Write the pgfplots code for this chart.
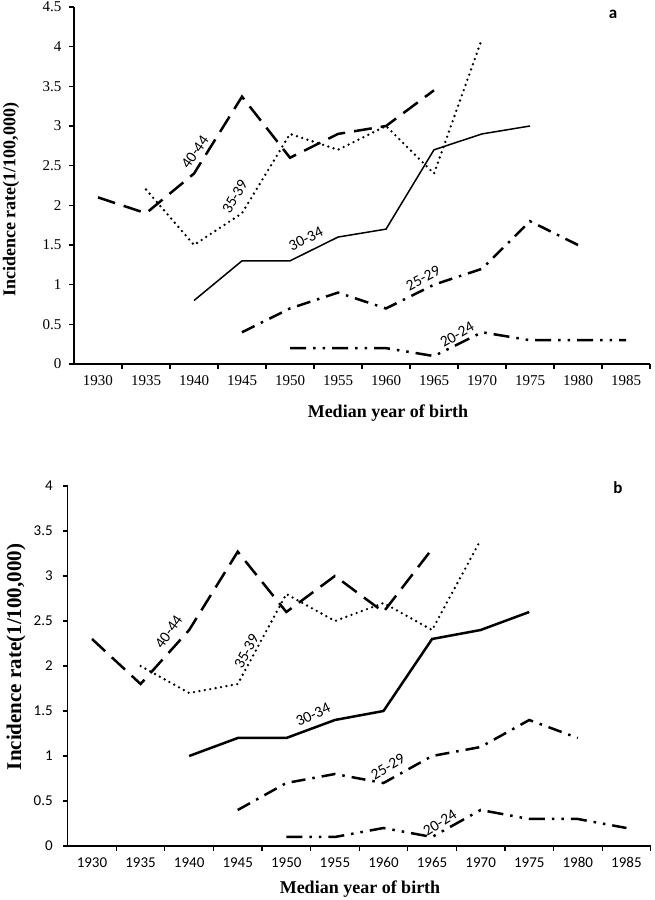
\documentclass[border=0pt]{standalone}
\usepackage{fontspec}
\setmainfont{Liberation Serif}
\newfontfamily\carlito{Carlito}
\usepackage{pgfplots}
\pgfplotsset{compat=1.18}
\pgfplotsset{
 cohort/.style={
  scale only axis, axis x line=bottom, axis y line=left,
  axis line style={-, line width=1.6pt},
  xmin=-0.5, xmax=11.5, xtick={0,...,11},
  xticklabels={1930,1935,1940,1945,1950,1955,1960,1965,1970,1975,1980,1985},
  every major x tick/.style={draw=none},
  minor xtick={0.5,1.5,...,11.5},
  tick align=outside, tick style={line width=1.2pt, black},
  major tick length=5pt, minor tick length=5pt,
  /pgf/number format/assume math mode=true,
  clip=false,
 },
 l40/.style={black, line width=2.5pt, dash pattern=on 18pt off 9pt},
 l35/.style={black, line width=2.6pt, line cap=round, dash pattern=on 0pt off 5.5pt},
 l30/.style={black, line width=1.5pt},
 l25/.style={black, line width=2.5pt, dash pattern=on 14pt off 7pt on 2.5pt off 7pt},
 l20/.style={black, line width=2.5pt, dash pattern=on 16pt off 7pt on 2.5pt off 7pt on 2.5pt off 7pt},
}
\tikzset{lab/.style={font=\carlito\fontsize{15.5}{15.5}\selectfont, inner sep=1pt}}
\begin{document}
\begin{tikzpicture}
\useasboundingbox (0pt,0pt) rectangle (654pt,900pt);
% ---------------- panel a ----------------
\begin{axis}[cohort, at={(74pt,536pt)}, anchor=south west, width=576pt, height=357pt,
  ymin=0, ymax=4.5, ytick={0,0.5,...,4.5},
  yticklabels={0,0.5,1,1.5,2,2.5,3,3.5,4,4.5},
  ticklabel style={font=\fontsize{15}{15}\selectfont},
  yticklabel style={xshift=-4pt},
  xticklabel style={yshift=-3pt}]
\addplot[l40] coordinates {(0,2.1)(1,1.9)(2,2.4)(3,3.37)(4,2.6)(5,2.9)(6,3.0)(7,3.45)};
\addplot[l35] coordinates {(1,2.2)(2,1.5)(3,1.9)(4,2.9)(5,2.7)(6,3.0)(7,2.4)(8,4.1)};
\addplot[l30] coordinates {(2,0.8)(3,1.3)(4,1.3)(5,1.6)(6,1.7)(7,2.7)(8,2.9)(9,3.0)};
\addplot[l25] coordinates {(3,0.4)(4,0.7)(5,0.9)(6,0.7)(7,1.0)(8,1.2)(9,1.8)(10,1.5)};
\addplot[l20] coordinates {(4,0.2)(5,0.2)(6,0.2)(7,0.1)(8,0.4)(9,0.3)(10,0.3)(11,0.3)};
\node[lab, rotate=55] at (axis cs:2.02,2.67) {40-44};
\node[lab, rotate=60] at (axis cs:2.85,2.11) {35-39};
\node[lab, rotate=26] at (axis cs:4.33,1.58) {30-34};
\node[lab, rotate=28] at (axis cs:6.77,1.08) {25-29};
\node[lab, rotate=30] at (axis cs:7.48,0.37) {20-24};
\end{axis}
% ---------------- panel b ----------------
\begin{axis}[cohort, at={(67.7pt,54pt)}, anchor=south west, width=583pt, height=360pt,
  ymin=0, ymax=4, ytick={0,0.5,...,4},
  yticklabels={0,0.5,1,1.5,2,2.5,3,3.5,4},
  ticklabel style={font=\carlito\fontsize{15}{15}\selectfont},
  yticklabel style={xshift=-6.5pt},
  xticklabel style={yshift=-3pt}]
\addplot[l40] coordinates {(0,2.3)(1,1.8)(2,2.4)(3,3.27)(4,2.6)(5,3.0)(6,2.6)(7,3.3)};
\addplot[l35] coordinates {(1,2.0)(2,1.7)(3,1.8)(4,2.8)(5,2.5)(6,2.7)(7,2.4)(8,3.4)};
\addplot[black, line width=2.5pt] coordinates {(2,1.0)(3,1.2)(4,1.2)(5,1.4)(6,1.5)(7,2.3)(8,2.4)(9,2.6)};
\addplot[l25] coordinates {(3,0.4)(4,0.7)(5,0.8)(6,0.7)(7,1.0)(8,1.1)(9,1.4)(10,1.2)};
\addplot[l20] coordinates {(4,0.1)(5,0.1)(6,0.2)(7,0.1)(8,0.4)(9,0.3)(10,0.3)(11,0.2)};
\node[lab, rotate=55] at (axis cs:1.58,2.38) {40-44};
\node[lab, rotate=62] at (axis cs:3.18,2.16) {35-39};
\node[lab, rotate=25] at (axis cs:4.55,1.46) {30-34};
\node[lab, rotate=30] at (axis cs:6.09,0.88) {25-29};
\node[lab, rotate=32] at (axis cs:7.16,0.26) {20-24};
\end{axis}
% ---------------- labels ----------------
\node[font=\bfseries\fontsize{18}{18}\selectfont] at (388pt,487pt) {Median year of birth};
\node[font=\bfseries\fontsize{18}{18}\selectfont] at (360pt,11pt) {Median year of birth};
\node[font=\bfseries\fontsize{18}{18}\selectfont, rotate=90] at (11pt,700pt) {Incidence rate(1/100,000)};
\node[font=\bfseries\fontsize{21}{21}\selectfont, rotate=90] at (16pt,243pt) {Incidence rate(1/100,000)};
\node[font=\carlito\bfseries\fontsize{17}{17}\selectfont] at (613pt,886pt) {a};
\node[font=\carlito\bfseries\fontsize{17}{17}\selectfont] at (618pt,412pt) {b};
\end{tikzpicture}
\end{document}
